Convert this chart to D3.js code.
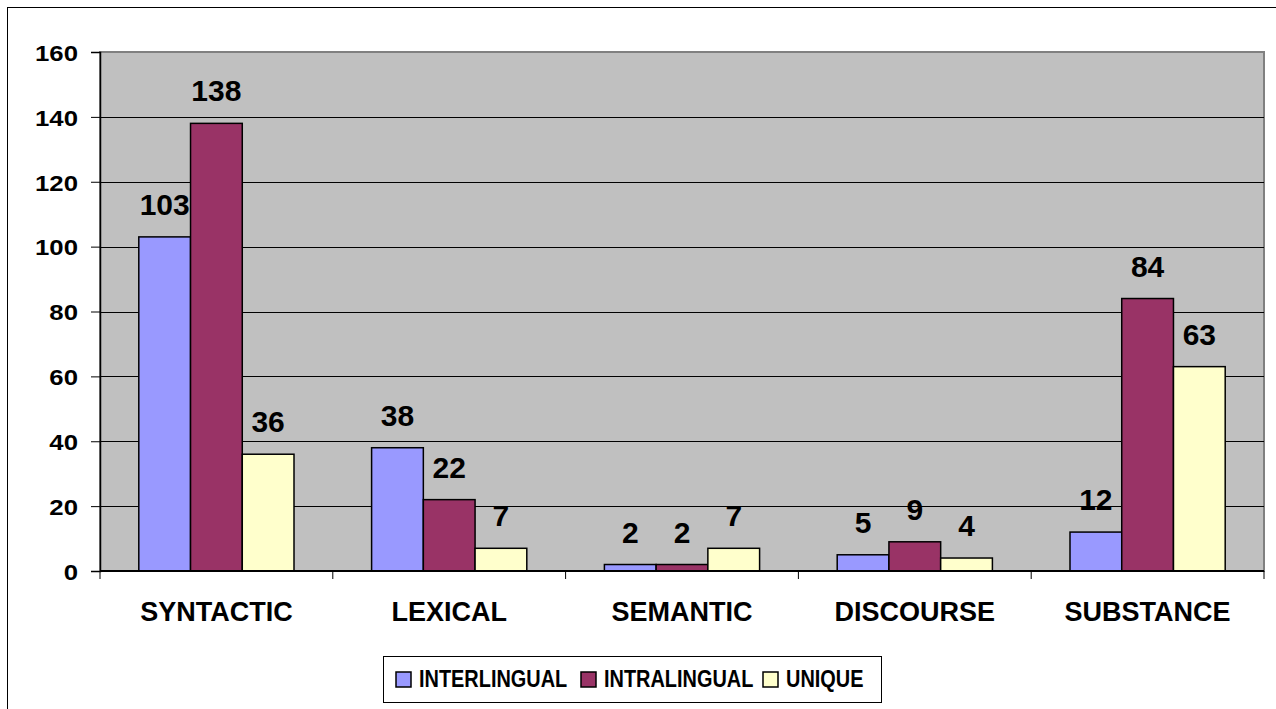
<!DOCTYPE html>
<html>
<head>
<meta charset="utf-8">
<script src="https://cdn.jsdelivr.net/npm/d3@7"></script>
<style>
  body { margin: 0; background: #fff; }
  svg text { font-family: "Liberation Sans", Arial, sans-serif; font-weight: bold; fill: #000; }
</style>
</head>
<body>
<svg id="chart" width="1276" height="709"></svg>
<script>
var categories = ["SYNTACTIC", "LEXICAL", "SEMANTIC", "DISCOURSE", "SUBSTANCE"];
var seriesNames = ["INTERLINGUAL", "INTRALINGUAL", "UNIQUE"];
var interlingual = [103, 38, 2, 5, 12];
var intralingual = [138, 22, 2, 9, 84];
var unique = [36, 7, 7, 4, 63];
var seriesColors = ["#9999FF", "#993366", "#FFFFCC"];
var yTicks = [0, 20, 40, 60, 80, 100, 120, 140, 160];

var seriesValues = [interlingual, intralingual, unique];
var svg = d3.select("#chart");
var plot = { left: 100, top: 52, right: 1264, bottom: 571 };

// outer frame
svg.append("rect")
    .attr("x", 7.5).attr("y", 7.5)
    .attr("width", 1300).attr("height", 800)
    .attr("fill", "#fff").attr("stroke", "#000").attr("stroke-width", 1);

var y = d3.scaleLinear().domain([0, 160]).range([plot.bottom, plot.top]);
var x0 = d3.scaleBand().domain(categories).range([plot.left, plot.right]).padding(0);
var x1 = d3.scaleBand().domain(seriesNames).range([0, x0.bandwidth()])
    .paddingInner(0).paddingOuter(0.75);

// plot background
svg.append("rect")
    .attr("x", plot.left).attr("y", plot.top)
    .attr("width", plot.right - plot.left).attr("height", plot.bottom - plot.top)
    .attr("fill", "#C0C0C0").attr("stroke", "#808080").attr("stroke-width", 2);

// gridlines
svg.append("g").selectAll("line")
    .data(yTicks.filter(function (t) { return t > 0 && t < 160; }))
    .enter().append("line")
    .attr("x1", plot.left).attr("x2", plot.right)
    .attr("y1", function (d) { return Math.round(y(d)) + 0.5; })
    .attr("y2", function (d) { return Math.round(y(d)) + 0.5; })
    .attr("stroke", "#000").attr("stroke-width", 1);

// y axis
var yAxis = svg.append("g")
    .attr("transform", "translate(" + plot.left + ",0)")
    .call(d3.axisLeft(y).tickValues(yTicks).tickSize(9).tickPadding(0));
yAxis.select(".domain").attr("stroke", "#000").attr("stroke-width", 1.5);
yAxis.selectAll(".tick line").attr("stroke", "#000");
// slightly wide digits like the original rendering
yAxis.selectAll("text")
    .attr("font-size", 23).attr("x", 0).attr("dy", "0.36em")
    .attr("transform", "translate(-22,0) scale(1.12,1)")
    .style("font-family", "'Liberation Sans', Arial, sans-serif").style("font-weight", "bold");

// bars
var groups = svg.append("g").selectAll("g.cat")
    .data(categories)
    .enter().append("g")
    .attr("class", "cat")
    .attr("transform", function (c) { return "translate(" + x0(c) + ",0)"; });

groups.selectAll("rect")
    .data(function (c, i) {
        return seriesNames.map(function (s, j) {
            return { series: s, value: seriesValues[j][i], color: seriesColors[j] };
        });
    })
    .enter().append("rect")
    .attr("x", function (d) { return x1(d.series); })
    .attr("y", function (d) { return y(d.value); })
    .attr("width", x1.bandwidth())
    .attr("height", function (d) { return y(0) - y(d.value); })
    .attr("fill", function (d) { return d.color; })
    .attr("stroke", "#000").attr("stroke-width", 1.5);

groups.selectAll("text.val")
    .data(function (c, i) {
        return seriesNames.map(function (s, j) {
            return { series: s, value: seriesValues[j][i] };
        });
    })
    .enter().append("text")
    .attr("class", "val")
    .attr("x", function (d) { return x1(d.series) + x1.bandwidth() / 2; })
    .attr("y", function (d) { return y(d.value) - 22; })
    .attr("text-anchor", "middle")
    .attr("font-size", 30)
    .text(function (d) { return d.value; });

// x axis
var xAxis = svg.append("g")
    .attr("transform", "translate(0," + plot.bottom + ")");
xAxis.append("line")
    .attr("x1", plot.left).attr("x2", plot.right)
    .attr("stroke", "#000").attr("stroke-width", 2);
xAxis.selectAll("line.tk")
    .data(d3.range(categories.length + 1))
    .enter().append("line")
    .attr("class", "tk")
    .attr("x1", function (i) { return plot.left + i * x0.step(); })
    .attr("x2", function (i) { return plot.left + i * x0.step(); })
    .attr("y1", 0).attr("y2", 8)
    .attr("stroke", "#000");
xAxis.selectAll("text")
    .data(categories)
    .enter().append("text")
    .attr("x", function (c) { return x0(c) + x0.bandwidth() / 2; })
    .attr("y", 50)
    .attr("text-anchor", "middle")
    .attr("font-size", 27)
    .text(function (c) { return c; });

// legend
var legend = svg.append("g");
legend.append("rect")
    .attr("x", 383.5).attr("y", 656.5)
    .attr("width", 498).attr("height", 46)
    .attr("fill", "#fff").attr("stroke", "#000");
var legendX = [396, 581, 763];
var items = legend.selectAll("g.item")
    .data(seriesNames)
    .enter().append("g")
    .attr("class", "item")
    .attr("transform", function (s, i) { return "translate(" + legendX[i] + ",672)"; });
items.append("rect")
    .attr("width", 15).attr("height", 15)
    .attr("fill", function (s, i) { return seriesColors[i]; })
    .attr("stroke", "#000").attr("stroke-width", 1.5);
// legend text is narrow and tall in the original
items.append("text")
    .attr("transform", "translate(23,15) scale(0.83,1)")
    .attr("font-size", 24)
    .text(function (s) { return s; });
</script>
</body>
</html>
